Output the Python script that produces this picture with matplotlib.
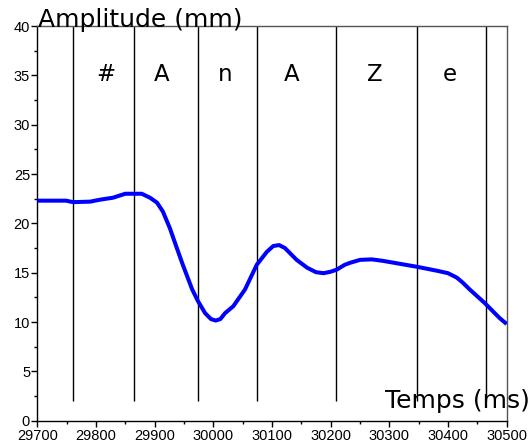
"""
Amplitude contour over a short utterance, with phoneme segment boundaries.
"""

import matplotlib
import matplotlib.pyplot as plt
from matplotlib.ticker import MultipleLocator

matplotlib.use("Agg")

# Amplitude curve (ms, mm)
TIME_MS = [
    29700, 29749, 29761, 29790, 29807, 29829, 29850, 29878, 29892, 29904,
    29914, 29926, 29936, 29948, 29964, 29974, 29986, 29996, 30004, 30012,
    30020, 30034, 30054, 30074, 30091, 30102, 30112, 30122, 30142, 30160,
    30175, 30188, 30200, 30210, 30224, 30233, 30250, 30270, 30289, 30318,
    30347, 30381, 30400, 30415, 30425, 30437, 30463, 30488, 30500,
]
AMPLITUDE_MM = [
    22.3, 22.3, 22.15, 22.2, 22.4, 22.6, 23.0, 23.0, 22.6, 22.1,
    21.2, 19.5, 17.8, 15.8, 13.3, 12.1, 10.9, 10.3, 10.15, 10.3,
    10.9, 11.6, 13.3, 15.8, 17.1, 17.7, 17.8, 17.5, 16.3, 15.5,
    15.05, 14.95, 15.1, 15.3, 15.8, 16.0, 16.3, 16.35, 16.2, 15.9,
    15.6, 15.2, 14.95, 14.5, 14.0, 13.3, 11.9, 10.4, 9.8,
]

# Segment boundaries and phoneme labels
BOUNDARIES_MS = [29761, 29864, 29974, 30074, 30209, 30347, 30464]
PHONEMES = ["#", "A", "n", "A", "Z", "e"]
PHONEME_X_MS = [29816, 29912, 30020, 30134, 30275, 30403]
PHONEME_Y = 34.4
BOUNDARY_BOTTOM = 2

CURVE_COLOR = "#0000ff"
TICK_FONT = "Liberation Sans"


def main() -> None:
    fig = plt.figure(figsize=(5.30, 4.46), dpi=100)
    ax = fig.add_axes([0.0704, 0.0567, 0.8856, 0.885])

    ax.plot(TIME_MS, AMPLITUDE_MM, color=CURVE_COLOR, linewidth=2.9,
            solid_capstyle="butt", solid_joinstyle="round", zorder=3)

    ax.vlines(BOUNDARIES_MS, BOUNDARY_BOTTOM, 40, color="black",
              linewidth=1.0, zorder=2)

    for x, lab in zip(PHONEME_X_MS, PHONEMES):
        ax.text(x, PHONEME_Y, lab, ha="center", va="baseline",
                fontsize=16.5, family="DejaVu Sans")

    ax.set_xlim(29700, 30500)
    ax.set_ylim(0, 40)
    ax.xaxis.set_major_locator(MultipleLocator(100))
    ax.xaxis.set_minor_locator(MultipleLocator(50))
    ax.yaxis.set_major_locator(MultipleLocator(5))
    ax.yaxis.set_minor_locator(MultipleLocator(2.5))

    ax.tick_params(which="major", length=4, width=1, direction="out",
                   top=False, right=False)
    ax.tick_params(which="minor", length=2.5, width=1, direction="out",
                   top=False, right=False)
    ax.tick_params(axis="x", which="major", pad=2.2)
    ax.tick_params(axis="y", which="major", pad=1.2)
    for lab in ax.get_xticklabels() + ax.get_yticklabels():
        lab.set_fontfamily(TICK_FONT)
        lab.set_fontsize(10.5)

    for side in ("top", "right"):
        ax.spines[side].set_color("#555555")
    for spine in ax.spines.values():
        spine.set_linewidth(1.0)

    # axis captions sit inside the frame corners
    fig.text(38 / 530, 1 - 26.7 / 446, "Amplitude (mm)", ha="left",
             va="baseline", fontsize=18, family="DejaVu Sans", zorder=5)
    fig.text(530 / 530, 1 - 408.3 / 446, "Temps (ms)", ha="right",
             va="baseline", fontsize=18, family="DejaVu Sans", zorder=5)

    fig.savefig("out.png", dpi=100)
    plt.close(fig)


if __name__ == "__main__":
    main()
